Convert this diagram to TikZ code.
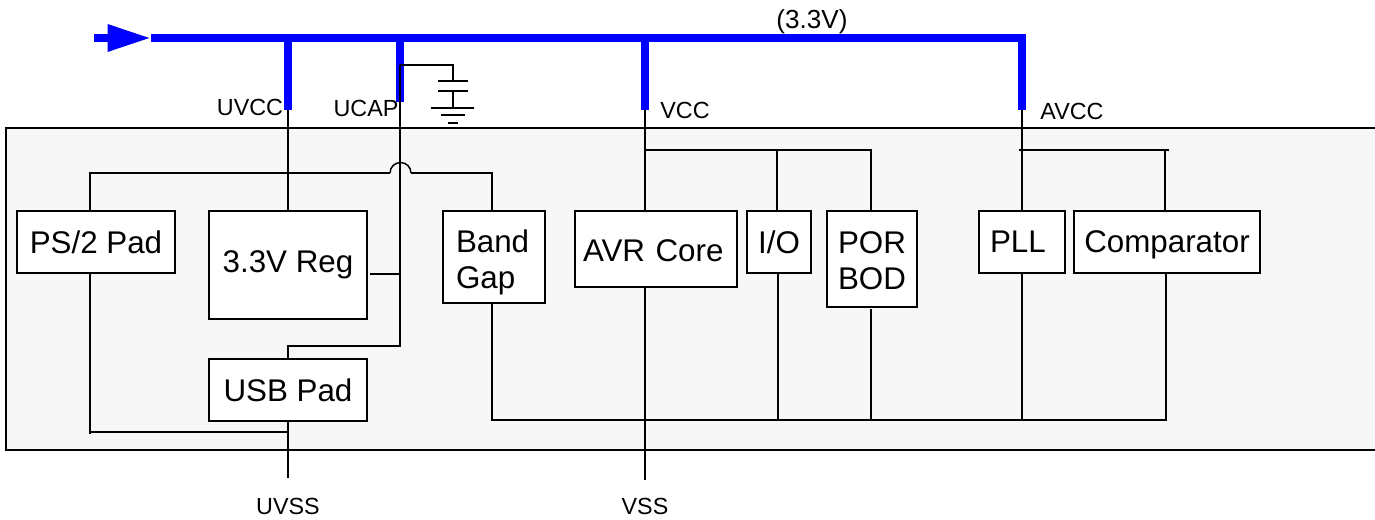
\documentclass[tikz,border=0pt]{standalone}
\usepackage{fontspec}
\setmainfont{Liberation Sans}
\usetikzlibrary{arrows.meta}
\definecolor{chipgray}{HTML}{F7F7F7}
\definecolor{busblue}{HTML}{0000FF}
\tikzset{
  block/.style={draw, fill=white, line width=1.5pt, inner sep=0pt, text depth=0pt, font=\fontsize{23.5}{27}\selectfont, align=left},
  pinlabel/.style={inner sep=0pt, font=\fontsize{17.5}{20}\selectfont},
  wire/.style={line width=1.5pt},
  bus/.style={busblue, line width=6pt}
}
\begin{document}
\begin{tikzpicture}[x=.75pt, y=-.75pt]
\useasboundingbox (0,0) rectangle (1375,520);
\draw [wire, fill=chipgray] (1375,128) -- (6,128) -- (6,450) -- (1375,450);

\coordinate (busin) at (94,38);
\coordinate (bustip) at (151,38);
\coordinate (uvcc) at (288,110);
\coordinate (ucap) at (400,102);
\coordinate (vcc) at (645,110);
\coordinate (avcc) at (1022,110);
\coordinate (capin) at (400,65);
\coordinate (captop) at (453,81);
\coordinate (capbot) at (453,91);
\coordinate (gnd) at (453,108);
\coordinate (uvss) at (288,478);
\coordinate (vss) at (645,480);
\coordinate (regtap) at (400,274);
\coordinate (usbtap) at (400,346);
\coordinate (humpl) at (390,173);
\coordinate (humpr) at (411,173);
\coordinate (ioline) at (645,150);
\coordinate (avline) at (1019,150);

\node [block, minimum width=119pt, minimum height=46pt] (ps2) at (96,242) {PS/2 Pad};
\node [block, minimum width=119pt, minimum height=81pt, text depth=5pt] (reg) at (288,265) {3.3V Reg};
\node [block, minimum width=119pt, minimum height=46pt] (usb) at (288,390) {USB Pad};
\node [block, minimum width=76pt, minimum height=69pt, text width=57pt, text height=14pt, text depth=20pt] (gap) at (494,257) {Band\\Gap};
\node [block, minimum width=121.5pt, minimum height=57pt, text width=109.5pt, text height=19pt] (avr) at (656,249) {AVR Core};
\node [block, minimum width=48pt, minimum height=46pt] (io) at (779,242) {I/O};
\node [block, minimum width=67.5pt, minimum height=72pt, align=center, text height=47pt, text depth=.5pt] (por) at (872,259) {POR\\BOD};
\node [block, minimum width=64.5pt, minimum height=46pt, text width=48pt] (pll) at (1022,242) {PLL};
\node [block, minimum width=140pt, minimum height=46pt] (comp) at (1167,242) {Comparator};

\node [pinlabel, font=\fontsize{19.6}{22}\selectfont] (lbl33) at (812,22) {(3.3V)};
\node [pinlabel] (lbluvcc) at (250,107) {UVCC};
\node [pinlabel] (lblucap) at (366,108) {UCAP};
\node [pinlabel] (lblvcc) at (685,110) {VCC};
\node [pinlabel] (lblavcc) at (1072,111) {AVCC};
\node [pinlabel] (lbluvss) at (288,506) {UVSS};
\node [pinlabel] (lblvss) at (645,506) {VSS};

%supply rail
\draw [bus, -{Triangle[length=32.5pt, width=19pt]}] (busin) -- (bustip);
\draw [bus] (bustip) -- (avcc |- bustip) -- (avcc);
\draw [bus] (uvcc |- bustip) -- (uvcc);
\draw [bus] (ucap |- bustip) -- (ucap);
\draw [bus] (vcc |- bustip) -- (vcc);

%capacitor and ground
\draw [wire] (capin) -| (captop);
\draw [wire] (438,81) -- (468,81);
\draw [wire] (438,91) -- (468,91);
\draw [wire] (capbot) -- (gnd);
\draw [wire] (431,108) -- (474,108);
\draw [wire] (441,115) -- (465,115);
\draw [wire] (448,123) -- (458,123);

%pins into the chip
\draw [wire] (uvcc) -- (reg.north);
\draw [wire] (vcc) -- (avr.north -| vcc);
\draw [wire] (avcc) -- (pll.north);
\draw [wire] (capin) -- (usbtap) -| (usb.north);
\draw [wire] (reg.east) ++(2,9) -- (regtap);
\draw [wire] (usb.south) -- (uvss);
\draw [wire] (avr.south -| vss) -- (vss);

%bandgap to ps2 with hump over ucap
\draw [wire] (ps2.north -| 90,0) |- (humpl);
\draw [line width=1.1pt] (humpl) arc (-180:0:10.5);
\draw [wire] (humpr) -| (gap.north -| 492,0);

\draw [wire] (ioline) -| (io.north -| 777,0);
\draw [wire] (ioline) -| (por.north -| 871,0);
\draw [wire] (avline) -- (1169,150);
\draw [wire] (1165,150) -- (comp.north -| 1165,0);

%ground returns
\draw [wire] (ps2.south -| 90,0) -- (90,434);
\draw [wire] (90,432) -- (288,432);
\draw [wire] (gap.south -| 492,0) |- (1166,420) -- (comp.south -| 1166,0);
\draw [wire] (io.south -| 778,0) -- (778,420);
\draw [wire] (871,309) -- (871,420);
\draw [wire] (pll.south) -- (pll.south |- 0,420);
\end{tikzpicture}
\end{document}
